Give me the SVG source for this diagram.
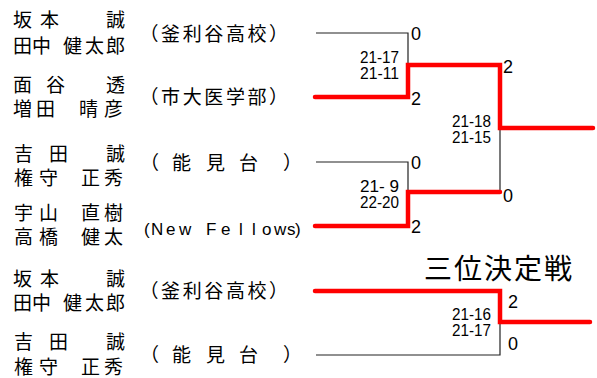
<svg xmlns="http://www.w3.org/2000/svg" width="597" height="378" viewBox="0 0 597 378">
<style>
.nm{font-family:"Noto Sans CJK JP","Noto Sans",sans-serif;font-size:19px;fill:#000}
.af{font-family:"Noto Sans CJK JP","Noto Sans",sans-serif;font-size:19px;fill:#000;letter-spacing:2.6px}
.en{font-family:"Liberation Sans","Noto Sans",sans-serif;font-size:17px;fill:#000}
.sc{font-family:"Liberation Sans",Arial,sans-serif;font-size:18px;fill:#000}
.gs{font-family:"Liberation Sans",Arial,sans-serif;font-size:16px;fill:#000;text-anchor:end}
.tt{font-family:"Noto Sans CJK JP",sans-serif;font-size:28px;fill:#000;letter-spacing:2px}
.lose{fill:none;stroke:#222;stroke-width:1.2}
.win{fill:none;stroke:#ff0000;stroke-width:4.5;stroke-linecap:round;stroke-linejoin:miter}
</style>
<g id="connectors">
<path class="lose" d="M316 33 H408 V65"/>
<path class="lose" d="M316 162 H408 V192"/>
<path class="lose" d="M500 128 V192"/>
<path class="lose" d="M316 355 H500 V322"/>
<path class="win" d="M315 97 H408 V65 H500 V128 H593"/>
<path class="win" d="M315 226 H408 V192 H500"/>
<path class="win" d="M315 291 H500 V322 H590"/>
</g>
<g id="team1">
<text class="nm"><tspan x="13 40 106" y="27">坂本誠</tspan><tspan x="13 32 63 85 106" y="53">田中健太郎</tspan></text>
<text class="af" x="139.5" y="41">（釜利谷高校）</text>
</g>
<g id="team2">
<text class="nm"><tspan x="13 46 106" y="92">面谷透</tspan><tspan x="13 36 79 104" y="116">増田晴彦</tspan></text>
<text class="af" x="139.5" y="104">（市大医学部）</text>
</g>
<g id="team3">
<text class="nm"><tspan x="14 49 106" y="161">吉田誠</tspan><tspan x="14 39 81 104" y="185">権守正秀</tspan></text>
<text class="nm" x="140 172 206 239 283" y="170">（能見台）</text>
</g>
<g id="team4">
<text class="nm"><tspan x="14 39 81 104" y="220">宇山直樹</tspan><tspan x="14 39 81 104" y="244">高橋健太</tspan></text>
<text class="en" x="144 151 166 179 192 206 221 239 252 262 274 287 295" y="235">(New Fellows)</text>
</g>
<g id="team5">
<text class="nm"><tspan x="13 40 106" y="286">坂本誠</tspan><tspan x="13 32 63 85 106" y="310">田中健太郎</tspan></text>
<text class="af" x="139.5" y="298">（釜利谷高校）</text>
</g>
<g id="team6">
<text class="nm"><tspan x="14 49 106" y="349">吉田誠</tspan><tspan x="14 39 81 104" y="374">権守正秀</tspan></text>
<text class="nm" x="140 172 206 239 283" y="362">（能見台）</text>
</g>
<g id="scores">
<text class="sc" x="411" y="40">0</text>
<text class="sc" x="411" y="105">2</text>
<text class="sc" x="503" y="73">2</text>
<text class="sc" x="411" y="169">0</text>
<text class="sc" x="411" y="233">2</text>
<text class="sc" x="503" y="202">0</text>
<text class="sc" x="508" y="308">2</text>
<text class="sc" x="508" y="350">0</text>
</g>
<g id="games">
<text class="gs" x="399" y="63" textLength="39" lengthAdjust="spacingAndGlyphs">21-17</text>
<text class="gs" x="399" y="79" textLength="39" lengthAdjust="spacingAndGlyphs">21-11</text>
<text class="gs" x="491" y="127" textLength="39" lengthAdjust="spacingAndGlyphs">21-18</text>
<text class="gs" x="491" y="143" textLength="39" lengthAdjust="spacingAndGlyphs">21-15</text>
<text class="gs" x="399" y="192" textLength="39" lengthAdjust="spacingAndGlyphs" xml:space="preserve">21- 9</text>
<text class="gs" x="399" y="208" textLength="39" lengthAdjust="spacingAndGlyphs">22-20</text>
<text class="gs" x="491" y="320" textLength="39" lengthAdjust="spacingAndGlyphs">21-16</text>
<text class="gs" x="491" y="336" textLength="39" lengthAdjust="spacingAndGlyphs">21-17</text>
</g>
<g id="title">
<text class="tt" x="424" y="279">三位決定戦</text>
</g>
</svg>
